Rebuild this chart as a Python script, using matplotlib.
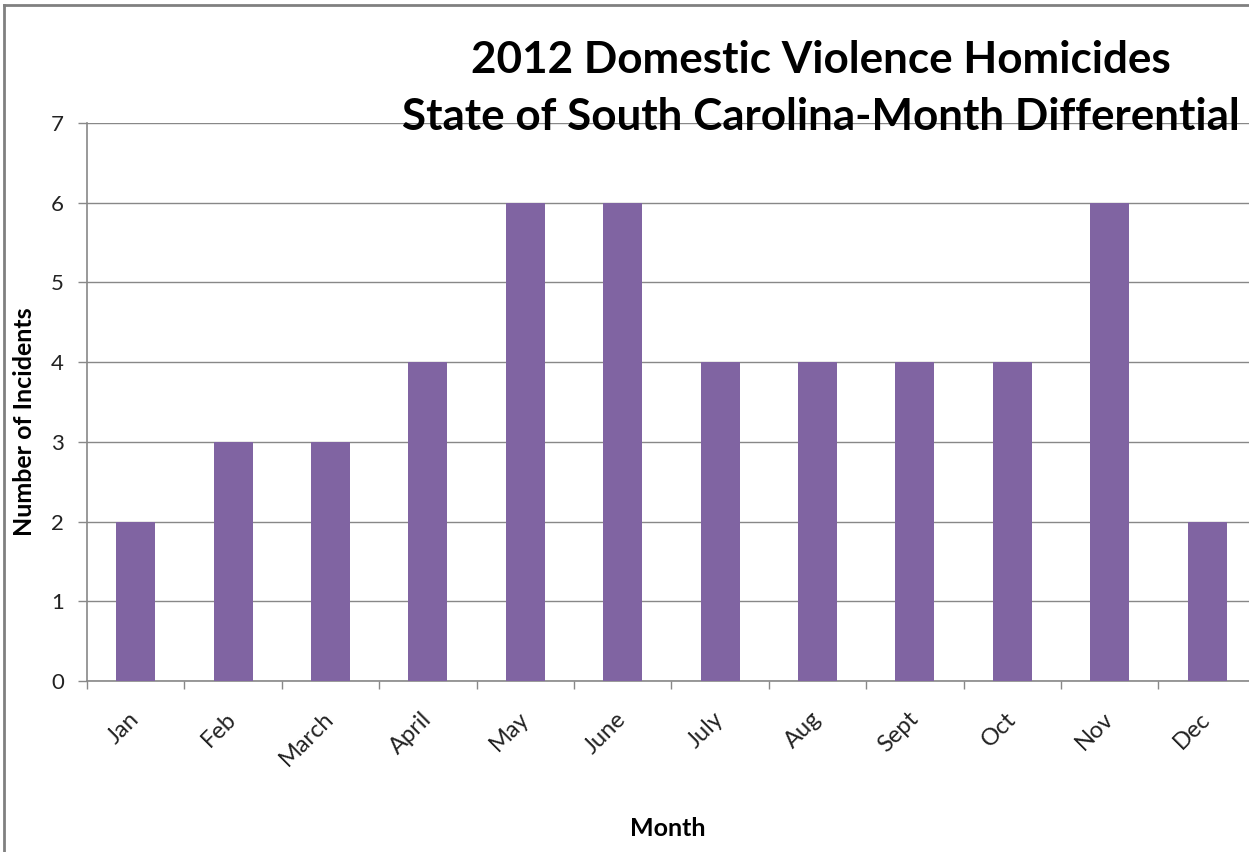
import matplotlib
matplotlib.use("Agg")
import matplotlib.pyplot as plt
from matplotlib.lines import Line2D
import numpy as np

months = ["Jan", "Feb", "March", "April", "May", "June", "July", "Aug", "Sept", "Oct", "Nov", "Dec"]
incidents = [2, 3, 3, 4, 6, 6, 4, 4, 4, 4, 6, 2]
yticks = [0, 1, 2, 3, 4, 5, 6, 7]

W, H = 1249, 852
fig = plt.figure(figsize=(W / 100, H / 100), dpi=100)
fig.patch.set_facecolor("white")

font = ["Lato", "DejaVu Sans"]

# axes: left 87px, bottom 681px, top 123px, category width ~97.4px
left, right, top, bottom = 87, 87 + 12 * 97.4, 123, 681
ax = fig.add_axes([left / W, (H - bottom) / H, (right - left) / W, (bottom - top) / H])

x = np.arange(len(months))
ax.bar(x, incidents, width=0.4, color="#8064A2", zorder=3)
ax.set_xlim(-0.5, len(months) - 0.5)
ax.set_ylim(0, 7)
ax.set_yticks(yticks)
ax.set_yticklabels([str(v) for v in yticks], fontsize=16, family=font, color="#222222")
ax.yaxis.grid(True, color="#888888", linewidth=1.0, zorder=0)
ax.set_axisbelow(True)

ax.set_xticks(np.arange(-0.5, len(months) + 0.5, 1.0))
ax.set_xticklabels([])
ax.set_xticks(x, minor=True)
ax.set_xticklabels(months, minor=True, rotation=45, ha="right", va="center",
                   rotation_mode="anchor", fontsize=17, family=font, color="#222222")
ax.tick_params(axis="x", which="minor", length=0, pad=25)
ax.tick_params(axis="x", which="major", length=6, color="#888888", width=1)
ax.tick_params(axis="y", length=6.5, color="#888888", width=1, pad=10)

for s in ["top", "right"]:
    ax.spines[s].set_visible(False)
for s in ["left", "bottom"]:
    ax.spines[s].set_color("#888888")
    ax.spines[s].set_linewidth(1.2)

fig.text(25 / W, 1 - 422 / H, "Number of Incidents", rotation=90, ha="center", va="center",
         fontsize=18, fontweight="bold", family=font, color="black")
fig.text(668 / W, 1 - 829 / H, "Month", ha="center", va="center",
         fontsize=18, fontweight="bold", family=font, color="black")

fig.text(821 / W, 1 - 60 / H, "2012 Domestic Violence Homicides", ha="center", va="center",
         fontsize=31.7, fontweight="bold", family=font, color="black")
fig.text(821 / W, 1 - 117 / H, "State of South Carolina-Month Differential", ha="center", va="center",
         fontsize=31.7, fontweight="bold", family=font, color="black")

# chart border (left and top visible)
fig.add_artist(Line2D([4 / W, 4 / W], [0, 1 - 5 / H], transform=fig.transFigure, color="#808080", linewidth=2))
fig.add_artist(Line2D([4 / W, 1], [1 - 5 / H, 1 - 5 / H], transform=fig.transFigure, color="#808080", linewidth=2))

fig.savefig("out.png", dpi=100)
